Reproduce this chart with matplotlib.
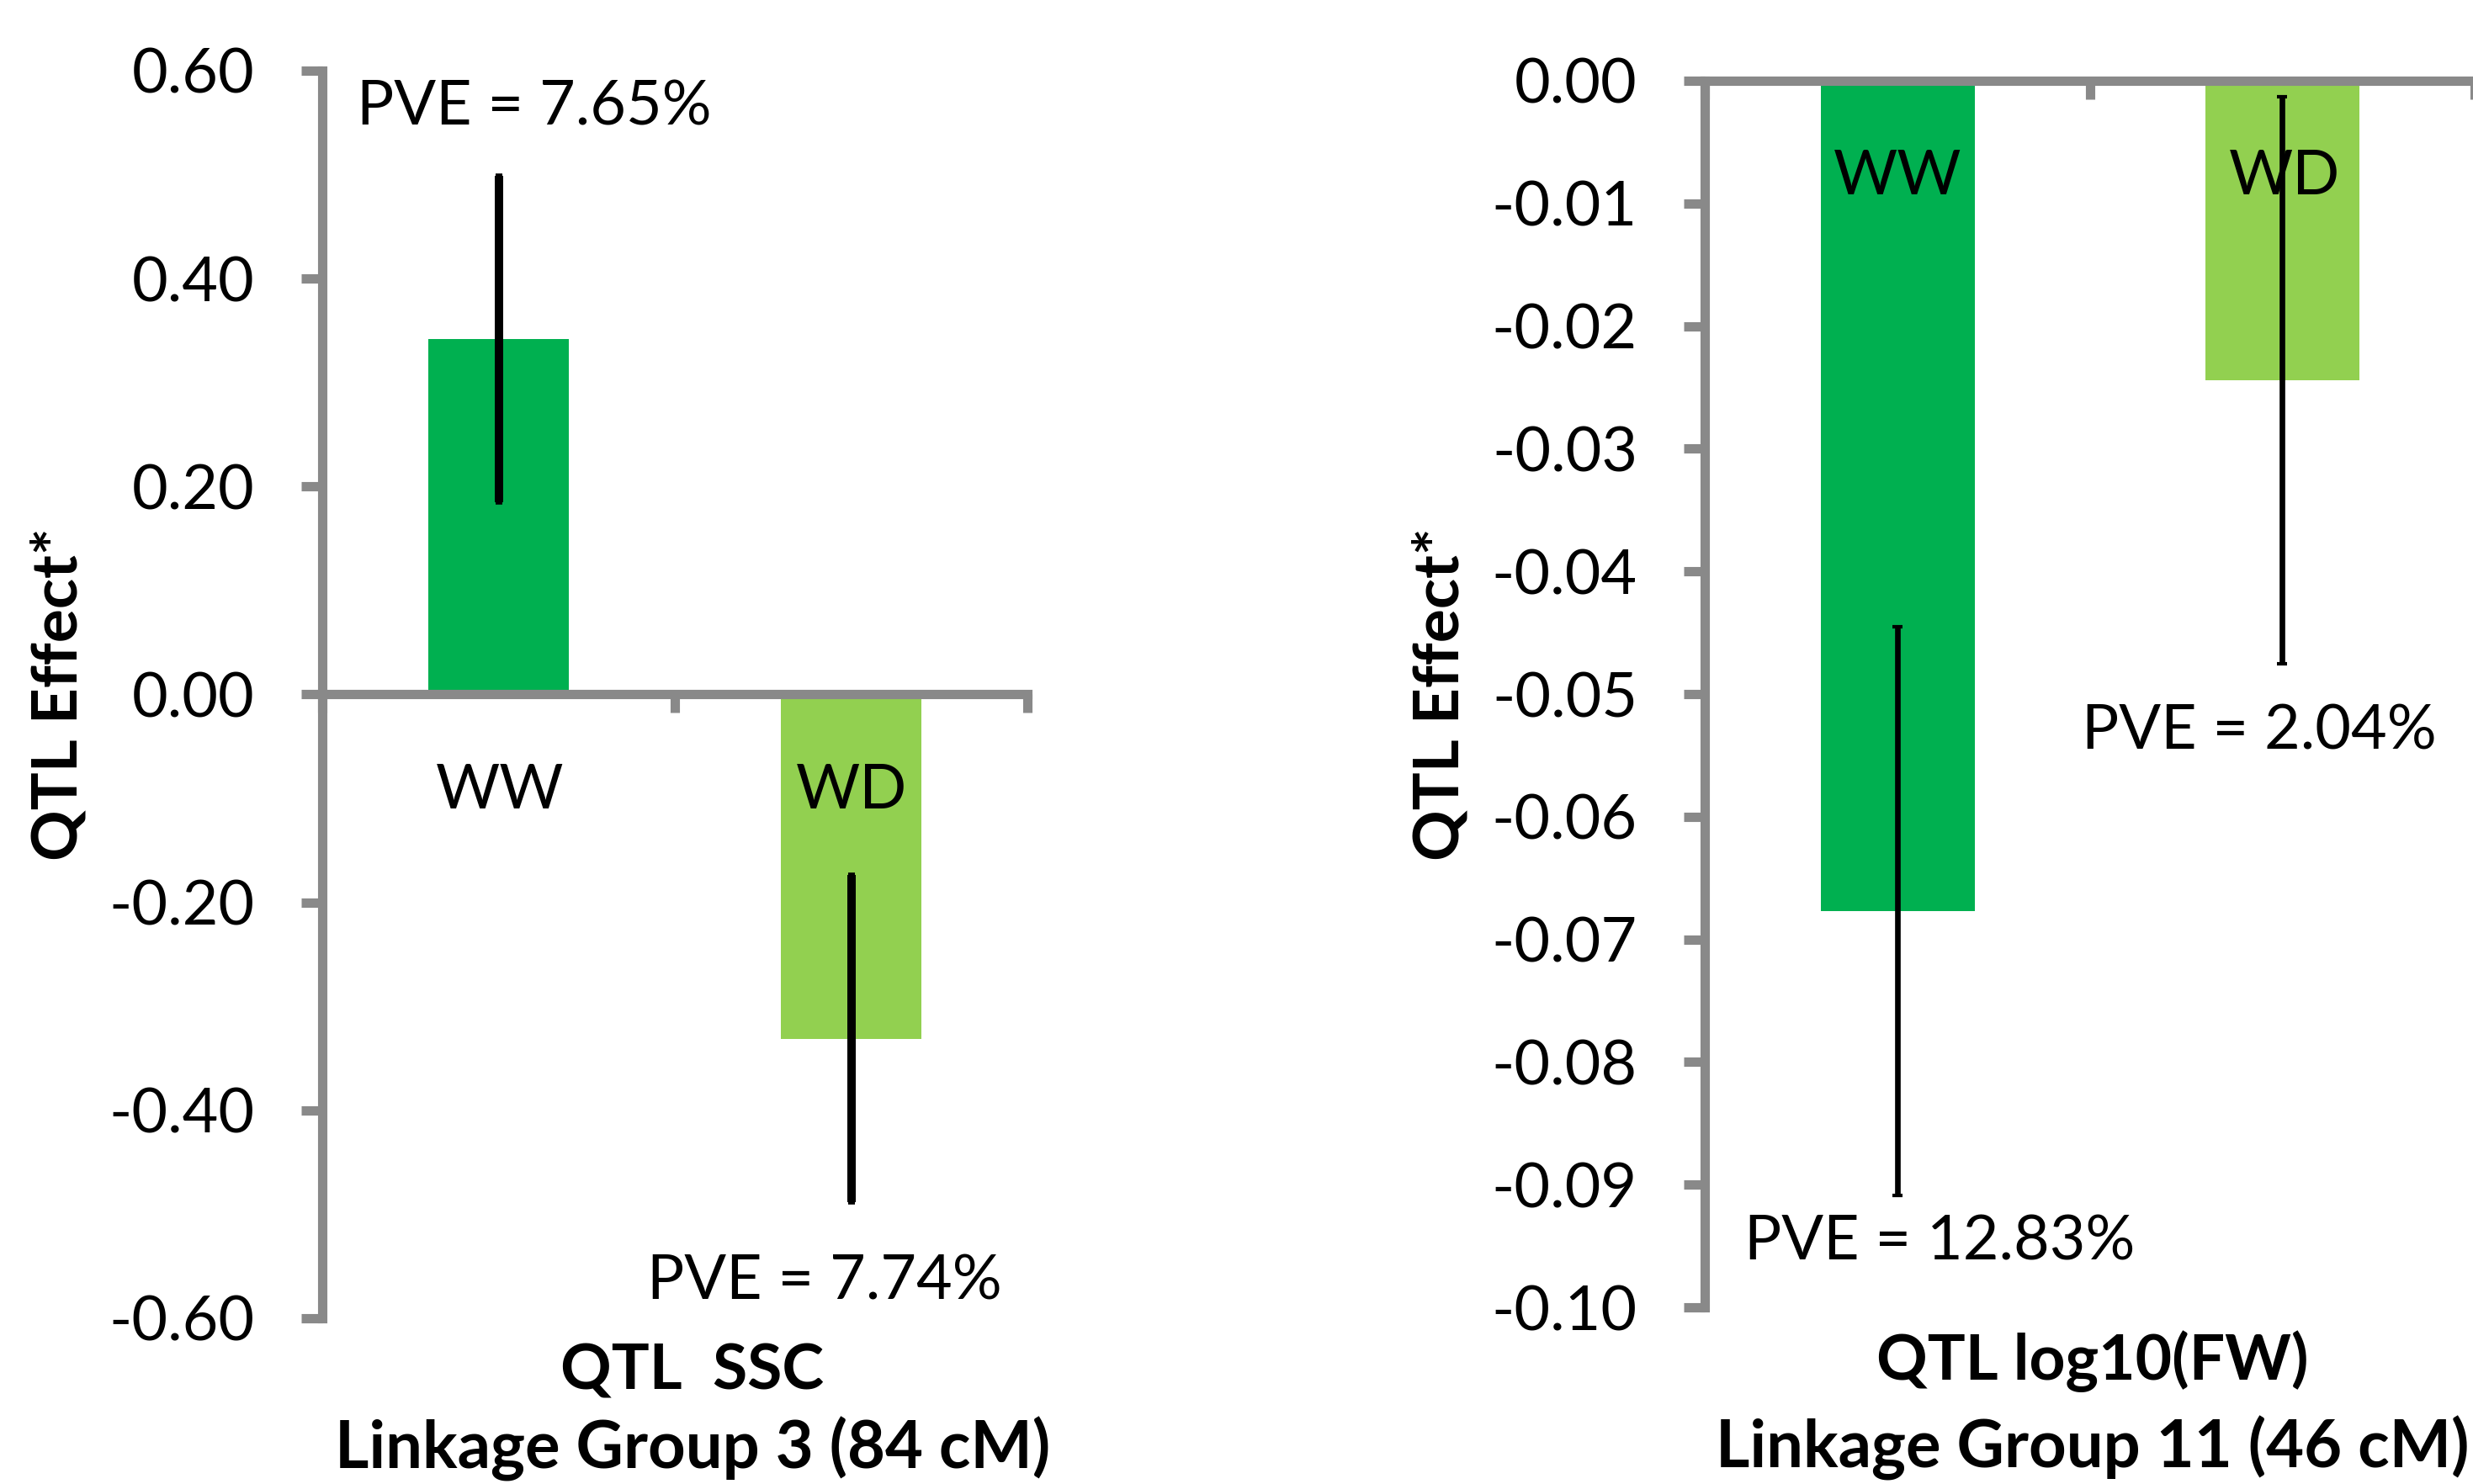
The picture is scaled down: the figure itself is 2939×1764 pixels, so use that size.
import numpy as np
import matplotlib
matplotlib.use("Agg")
import matplotlib.pyplot as plt

plt.rcParams['font.family'] = ['Lato', 'DejaVu Sans']
plt.rcParams['axes.unicode_minus'] = False

# data
conditions = ['WW', 'WD']
bar_colors = ['#00B050', '#92D050']

ssc_effect = [0.342, -0.331]
ssc_err = [0.157, 0.157]
ssc_pve = ['PVE = 7.65%', 'PVE = 7.74%']
ssc_ticks = [-0.60, -0.40, -0.20, 0.00, 0.20, 0.40, 0.60]
ssc_ticklabels = ['-0.60', '-0.40', '-0.20', '0.00', '0.20', '0.40', '0.60']

fw_effect = [-0.0677, -0.0244]
fw_err = [0.0232, 0.0231]
fw_pve = ['PVE = 12.83%', 'PVE = 2.04%']
fw_ticks = [-0.10, -0.09, -0.08, -0.07, -0.06, -0.05, -0.04, -0.03, -0.02, -0.01, 0.00]
fw_ticklabels = ['-0.10', '-0.09', '-0.08', '-0.07', '-0.06', '-0.05',
                 '-0.04', '-0.03', '-0.02', '-0.01', '0.00']

AX_GRAY = '#898989'
FS = 26.5

fig = plt.figure(figsize=(14.695, 8.82), dpi=200)
ax1 = fig.add_axes([0.1303, 0.1117, 0.2852, 0.8407])
ax2 = fig.add_axes([0.6895, 0.1190, 0.3112, 0.8266])


def style_axis(ax, ticks, ticklabels, ylim):
    ax.set_xlim(0, 2)
    ax.set_ylim(*ylim)
    for s in ['top', 'right']:
        ax.spines[s].set_visible(False)
    ax.spines['bottom'].set_position(('data', 0))
    for s in ['left', 'bottom']:
        ax.spines[s].set_color(AX_GRAY)
        ax.spines[s].set_linewidth(4)
        ax.spines[s].set_zorder(5)
    ax.set_yticks(ticks)
    ax.set_yticklabels(ticklabels, fontsize=FS)
    ax.set_xticks([0, 1, 2])
    ax.set_xticklabels([])
    ax.tick_params(axis='y', direction='out', length=9, width=4,
                   color=AX_GRAY, pad=20)
    ax.tick_params(axis='x', direction='out', length=8, width=4,
                   color=AX_GRAY)
    ax.patch.set_visible(False)


xpos = np.arange(len(conditions)) + 0.5

# left panel: SSC
style_axis(ax1, ssc_ticks, ssc_ticklabels, (-0.6, 0.6))
ax1.bar(xpos, ssc_effect, width=0.40, color=bar_colors, zorder=1)
ax1.errorbar(xpos, ssc_effect, yerr=ssc_err, fmt='none', ecolor='black',
             elinewidth=3.6, capsize=1.5, capthick=2, zorder=6)
ax1.text(0.503, -0.110, conditions[0], ha='center', va='baseline', fontsize=FS, zorder=3)
ax1.text(1.50, -0.110, conditions[1], ha='center', va='baseline', fontsize=FS, zorder=3)
ax1.text(0.60, 0.548, ssc_pve[0], ha='center', va='baseline', fontsize=FS)
ax1.text(1.425, -0.582, ssc_pve[1], ha='center', va='baseline', fontsize=FS)

# right panel: log10(FW)
style_axis(ax2, fw_ticks, fw_ticklabels, (-0.1, 0.0))
ax2.bar(xpos, fw_effect, width=0.40, color=bar_colors, zorder=1)
ax2.errorbar(xpos, fw_effect, yerr=fw_err, fmt='none', ecolor='black',
             elinewidth=2.4, capsize=2, capthick=1.5, zorder=6)
ax2.text(0.501, -0.00926, conditions[0], ha='center', va='baseline', fontsize=FS, zorder=3)
ax2.text(1.505, -0.00926, conditions[1], ha='center', va='baseline', fontsize=FS, zorder=3)
ax2.text(0.609, -0.0961, fw_pve[0], ha='center', va='baseline', fontsize=FS)
ax2.text(1.44, -0.0545, fw_pve[1], ha='center', va='baseline', fontsize=FS)

# axis titles
fig.text(0.280, 0.0638, 'QTL  SSC', ha='center', va='baseline',
         fontsize=27, fontweight='bold')
fig.text(0.280, 0.0105, 'Linkage Group 3 (84 cM)', ha='center', va='baseline',
         fontsize=28, fontweight='bold')
fig.text(0.846, 0.0703, 'QTL log10(FW)', ha='center', va='baseline',
         fontsize=27, fontweight='bold')
fig.text(0.846, 0.0108, 'Linkage Group 11 (46 cM)', ha='center', va='baseline',
         fontsize=28, fontweight='bold')
fig.text(0.0238, 0.532, 'QTL Effect*', rotation=90, ha='center', va='center',
         fontsize=27, fontweight='bold')
fig.text(0.5825, 0.532, 'QTL Effect*', rotation=90, ha='center', va='center',
         fontsize=27, fontweight='bold')

fig.savefig('out.png', dpi=200, facecolor='white')
